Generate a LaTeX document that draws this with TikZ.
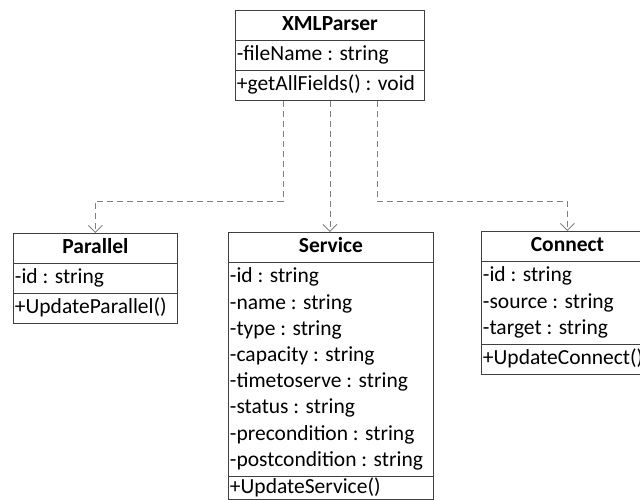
\documentclass[tikz,border=0pt]{standalone}
\usepackage{fontspec}
\setmainfont{Carlito}
\usetikzlibrary{arrows.meta,shapes.multipart}

\begin{document}
\begin{tikzpicture}[
    x=1pt, y=1pt,
    umlclass/.style={rectangle split, rectangle split parts=3, draw=black!75, line width=0.9pt,
      rectangle split part align={center,left,left}, align=left, anchor=north west,
      inner xsep=1.5pt, inner ysep=1.5pt, font=\fontsize{21.5}{26.2}\selectfont},
    dep/.style={draw=black!50, line width=0.9pt, dash pattern=on 6pt off 4pt,
      -{Straight Barb[length=7pt,width=14pt]}}
  ]
  \useasboundingbox (0,0) rectangle (640,-500);
  \node[umlclass, minimum width=189pt] (parser) at (235,-10)
    {\strut\textbf{XMLParser}
     \nodepart{second}\strut-fileName : string
     \nodepart{third}\strut+getAllFields() : void};
  \node[umlclass, minimum width=164pt] (parallel) at (13,-233)
    {\strut\textbf{Parallel}
     \nodepart{second}\strut-id : string
     \nodepart{third}\strut+UpdateParallel()};
  \node[umlclass, minimum width=205pt] (service) at (228,-232)
    {\strut\textbf{Service}
     \nodepart{second}\strut-id : string\\-name : string\\-type : string\\-capacity : string\\
       -timetoserve : string\\-status : string\\-precondition : string\\-postcondition : string\strut
     \nodepart{third}+UpdateService()};
  \node[umlclass, minimum width=172pt] (connect) at (481,-231)
    {\strut\textbf{Connect}
     \nodepart{second}\strut-id : string\\-source : string\\-target : string\strut
     \nodepart{third}\strut+UpdateConnect()};
  % dependencies
  \draw[dep] ([xshift=-46.5pt]parser.south) -- ++(0,-100) -| (parallel.north);
  \draw[dep] (parser.south) -- (parser.south |- service.north);
  \draw[dep] ([xshift=47.5pt]parser.south) -- ++(0,-100) -| (connect.north);
\end{tikzpicture}
\end{document}
